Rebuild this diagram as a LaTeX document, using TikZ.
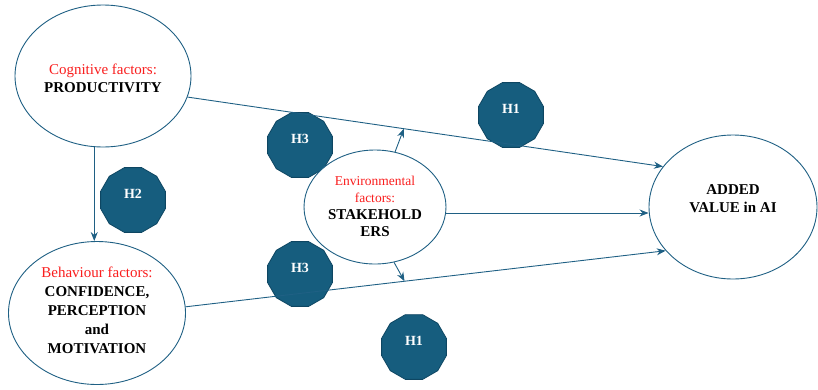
\documentclass[tikz,border=0pt]{standalone}
\usepackage{fontspec}
\setmainfont{Liberation Serif}
\usetikzlibrary{shapes.geometric,arrows.meta}
\definecolor{lineblue}{RGB}{31,96,132}
\definecolor{hfill}{RGB}{22,93,126}
\definecolor{hborder}{RGB}{14,70,98}
\definecolor{redtxt}{RGB}{250,30,30}
\tikzset{
  ell/.style={draw=lineblue, line width=0.9pt, fill=white, ellipse, inner sep=0pt},
  hyp/.style={regular polygon, regular polygon sides=12, fill=hfill, draw=hborder, line width=0.8pt, minimum size=67pt, inner sep=0pt},
  hlab/.style={text=white, font=\fontsize{14}{16}\selectfont\bfseries, yshift=6pt},
  conn/.style={draw=lineblue, line width=0.9pt, -{Stealth[length=9pt,width=7pt]}},
  txt/.style={align=center, font=\fontsize{15}{18}\selectfont}
}
\begin{document}
\begin{tikzpicture}[x=1pt,y=-1pt]
\useasboundingbox (0,0) rectangle (818,389);
% hypothesis badges
\node[hyp, label={[hlab]center:H1}] (h1a) at (511,115) {};
\node[hyp, label={[hlab]center:H1}] (h1b) at (414,347) {};
\node[hyp, label={[hlab]center:H2}] (h2) at (133,200) {};
\node[hyp, label={[hlab]center:H3}] (h3a) at (300,145) {};
\node[hyp, label={[hlab]center:H3}] (h3b) at (300,274) {};
% ellipses
\node[ell, minimum width=176pt, minimum height=142pt] (cog) at (103,76) {};
\node[txt] (cogt) at (103,78) {\textcolor{redtxt}{Cognitive factors:}\\\textbf{PRODUCTIVITY}};
\node[ell, minimum width=177pt, minimum height=143pt] (beh) at (97,313) {};
\node[txt, font=\fontsize{15}{19}\selectfont] (beht) at (97,310) {\textcolor{redtxt}{Behaviour factors:}\\\textbf{CONFIDENCE,}\\\textbf{PERCEPTION}\\\textbf{and}\\\textbf{MOTIVATION}};
\node[ell, minimum width=142pt, minimum height=114pt] (env) at (375,207) {};
\node[txt, font=\fontsize{15}{17}\selectfont] (envt) at (375,206) {{\fontsize{13.5}{17}\selectfont\textcolor{redtxt}{Environmental}}\\{\fontsize{13.5}{17}\selectfont\textcolor{redtxt}{factors:}}\\\textbf{STAKEHOLD}\\\textbf{ERS}};
\node[ell, minimum width=168pt, minimum height=144pt] (av) at (733,207) {};
\node[txt] (avt) at (733,199) {\textbf{ADDED}\\\textbf{VALUE in AI}};
% connectors
\draw[conn] (cog.-14) -- coordinate[pos=0.455] (m1) (av.150);
\draw[conn] (beh.4) -- coordinate[pos=0.456] (m2) (av.213);
\draw[conn] ([yshift=-6pt]env.east) -- ([yshift=-6pt]av.west);
\draw[conn] (cog.-97) -- (cog.-97 |- beh.north);
\draw[conn] (env.70) -- (m1);
\draw[conn] (env.-71) -- (m2);
\end{tikzpicture}
\end{document}
